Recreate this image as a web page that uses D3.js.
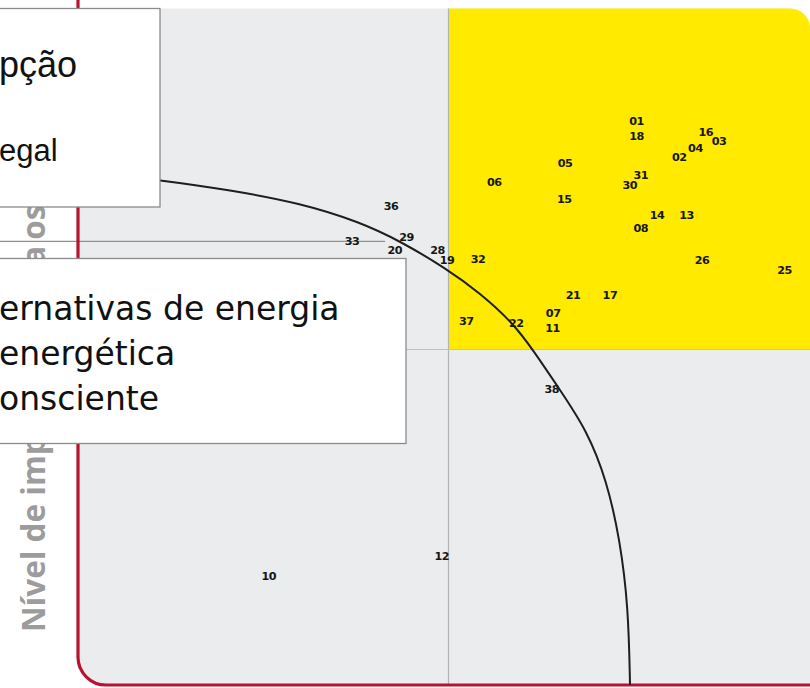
<!DOCTYPE html>
<html>
<head>
<meta charset="utf-8">
<script src="https://cdn.jsdelivr.net/npm/d3@7"></script>
<style>
  html, body { margin: 0; padding: 0; background: #ffffff; }
  svg { display: block; }
</style>
</head>
<body>
<script>
// ---------- data ----------
const labelIds = ["01","18","16","03","04","02","05","06","31","30","15","14","13","08","32","19","26","25","21","17","37","22","07","11","36","29","20","28","38","33","10","12"];
const labelX = [75.5,75.5,84.9,86.7,83.5,81.3,65.8,56.2,76.1,74.6,65.7,78.3,82.3,76.1,54.0,49.8,84.4,95.6,66.9,71.9,52.4,59.2,64.2,64.1,42.2,44.3,42.7,48.5,64.0,36.9,25.6,49.1];
const labelY = [84.0,81.7,82.3,81.0,80.0,78.6,77.7,74.9,76.0,74.4,72.3,69.9,69.9,68.0,63.4,63.3,63.3,61.7,58.1,58.1,54.1,53.9,55.3,53.2,71.3,66.7,64.7,64.8,44.1,66.1,16.2,19.2];

const curveX = [0,10.85,20.35,29.85,37.99,43.42,49.80,54.27,58.75,61.47,65.13,68.75,71.46,73.27,74.40,74.63];
const curveY = [76.6,75.26,73.77,71.83,69.00,66.17,62.00,58.42,53.95,49.93,43.96,38.00,30.55,21.61,11.62,0];

const xMid = 50, yMid = 50;
const leaderY = 66.1, leaderX = [-11, 41.4];

const yTitleParts = ["Nível de imp", "ortância para", " os"];
const box1Lines = ["pção", "egal"];
const box2Lines = ["ernativas de energia", "energética", "onsciente"];

// ---------- layout ----------
const W = 810, H = 688;
const svg = d3.select("body").append("svg").attr("width", W).attr("height", H);

const x = d3.scaleLinear().domain([0, 100]).range([80, 817]);
const y = d3.scaleLinear().domain([0, 100]).range([685, 14]);

const pTop = 8.5, pRight = 810, pBottom = 685, pLeft = 79;
const rc = 20, rb = 28;

// gray plot background
svg.append("path")
  .attr("d", `M${pLeft},${pTop} H${pRight - rc} A${rc},${rc} 0 0 1 ${pRight},${pTop + rc} V${pBottom} H${pLeft + rb} A${rb},${rb} 0 0 1 ${pLeft},${pBottom - rb} Z`)
  .attr("fill", "#ebeced");

// yellow quadrant
svg.append("path")
  .attr("d", `M${x(xMid)},${pTop} H${pRight - rc} A${rc},${rc} 0 0 1 ${pRight},${pTop + rc} V${y(yMid)} H${x(xMid)} Z`)
  .attr("fill", "#ffea00");

// dividers
svg.append("line")
  .attr("x1", x(xMid)).attr("x2", x(xMid)).attr("y1", pTop).attr("y2", pBottom)
  .attr("stroke", "#b3b3b3").attr("stroke-width", 1.2);
svg.append("line")
  .attr("x1", pLeft).attr("x2", pRight).attr("y1", y(yMid)).attr("y2", y(yMid))
  .attr("stroke", "#c2c2b8").attr("stroke-width", 1.2);

// leader line
svg.append("line")
  .attr("x1", x(leaderX[0])).attr("x2", x(leaderX[1]))
  .attr("y1", y(leaderY)).attr("y2", y(leaderY))
  .attr("stroke", "#8f8f8f").attr("stroke-width", 1.2);

// red axis frame
svg.append("path")
  .attr("d", `M78,0 V${pBottom - rb} A${rb},${rb} 0 0 0 ${78 + rb},${pBottom} H${W + 5}`)
  .attr("fill", "none").attr("stroke", "#b8122f").attr("stroke-width", 3.2);

// curve
const curvePts = curveX.map((d, i) => [d, curveY[i]]);
svg.append("path")
  .datum(curvePts)
  .attr("d", d3.line().x(d => x(d[0])).y(d => y(d[1])).curve(d3.curveBasis))
  .attr("fill", "none").attr("stroke", "#1e1e1e").attr("stroke-width", 2);

// point labels
svg.append("g").selectAll("text")
  .data(labelIds)
  .join("text")
  .attr("x", (d, i) => x(labelX[i]))
  .attr("y", (d, i) => y(labelY[i]))
  .attr("text-anchor", "middle")
  .attr("dominant-baseline", "central")
  .attr("font-family", "DejaVu Sans, sans-serif")
  .attr("font-weight", "bold")
  .attr("font-size", 11.2)
  .attr("letter-spacing", -0.5)
  .attr("fill", "#161616")
  .text(d => d);

// y-axis title
const titleStart = 632;
const title = svg.append("text")
  .attr("transform", `translate(45,${titleStart}) rotate(-90)`)
  .attr("font-family", "Open Sans, sans-serif")
  .attr("font-weight", 700)
  .attr("font-size", 31.5)
  .attr("fill", "#9c9c9c");
const tA = title.append("tspan").text(yTitleParts[0]);
const tB = title.append("tspan").text(yTitleParts[1]);
const tC = title.append("tspan").text(yTitleParts[2]);
try {
  // fit the middle (hidden) part so that "os" sits between the two boxes as in the reference
  const n = yTitleParts[0].length + yTitleParts[1].length;
  const len = title.node().getSubStringLength(0, n);
  const target = titleStart - 248;
  const ls = (target - len) / yTitleParts[1].length;
  tB.attr("letter-spacing", ls);
} catch (e) {}

// overlay box 1
svg.append("rect")
  .attr("x", -5).attr("y", pTop).attr("width", 165).attr("height", 207 - pTop)
  .attr("fill", "#ffffff").attr("stroke", "#8a8a8a").attr("stroke-width", 1.3);
const b1 = svg.append("g")
  .attr("font-family", "Liberation Sans, Arial, sans-serif")
  .attr("fill", "#111");
b1.append("text").attr("x", -1).attr("y", 76.5).attr("font-size", 36).text(box1Lines[0]);
b1.append("text").attr("x", -1).attr("y", 160.5).attr("font-size", 31).text(box1Lines[1]);

// overlay box 2
svg.append("rect")
  .attr("x", -5).attr("y", 258.5).attr("width", 411).attr("height", 185)
  .attr("fill", "#ffffff").attr("stroke", "#8a8a8a").attr("stroke-width", 1.3);
svg.append("g")
  .attr("font-family", "DejaVu Sans, sans-serif")
  .attr("font-size", 33).attr("fill", "#111")
  .selectAll("text").data(box2Lines).join("text")
  .attr("x", -1)
  .attr("y", (d, i) => 320 + i * 45)
  .text(d => d);
</script>
</body>
</html>
